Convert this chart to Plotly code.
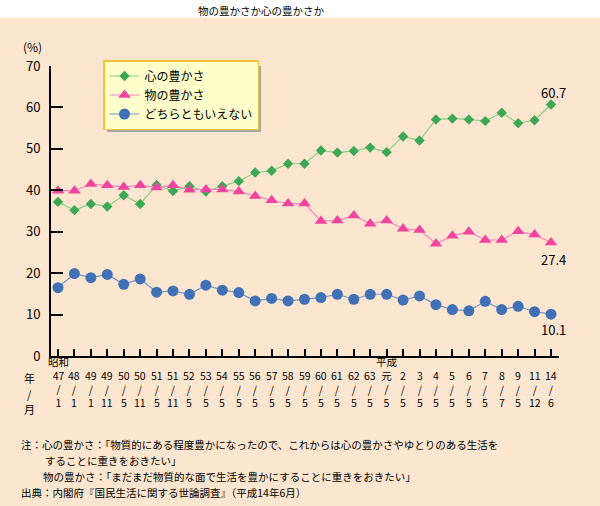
import plotly.graph_objects as go

# ---------------- data ----------------
eras = ["昭和"] + [""] * 19 + ["平成"] + [""] * 10
years = ["47", "48", "49", "49", "50", "50", "51", "51", "52", "53", "54", "55", "56", "57",
         "58", "59", "60", "61", "62", "63", "元", "2", "3", "4", "5", "6", "7", "8", "9", "11", "14"]
months = ["1", "1", "1", "11", "5", "11", "5", "11", "5", "5", "5", "5", "5", "5",
          "5", "5", "5", "5", "5", "5", "5", "5", "5", "5", "5", "5", "5", "7", "5", "12", "6"]
categories = [f"{e}{y}/{m}" for e, y, m in zip(eras, years, months)]

kokoro = [37.2, 35.2, 36.7, 36.1, 38.8, 36.7, 41.3, 39.8, 41.0, 39.7, 41.0, 42.2, 44.3, 44.7,
          46.4, 46.4, 49.6, 49.1, 49.5, 50.3, 49.2, 53.0, 52.0, 57.1, 57.3, 57.1, 56.7, 58.7,
          56.2, 56.9, 60.7]
mono = [39.9, 39.9, 41.5, 41.2, 40.8, 41.2, 40.7, 41.2, 40.1, 40.2, 40.2, 39.7, 38.6, 37.6,
        36.8, 36.8, 32.6, 32.7, 33.9, 31.9, 32.7, 30.7, 30.4, 27.1, 29.0, 30.0, 28.0, 28.0,
        30.1, 29.3, 27.4]
dochira = [16.5, 19.9, 18.9, 19.7, 17.3, 18.6, 15.4, 15.7, 14.9, 17.1, 15.9, 15.3, 13.3, 13.9,
           13.3, 13.7, 14.1, 14.9, 13.7, 14.9, 14.9, 13.5, 14.5, 12.4, 11.2, 10.9, 13.2, 11.2,
           12.0, 10.7, 10.1]

series_names = ["心の豊かさ", "物の豊かさ", "どちらともいえない"]

title_text = "物の豊かさか心の豊かさか"
notes = [
    "注：心の豊かさ：「物質的にある程度豊かになったので、これからは心の豊かさやゆとりのある生活を",
    "することに重きをおきたい」",
    "物の豊かさ：「まだまだ物質的な面で生活を豊かにすることに重きをおきたい」",
    "出典：内閣府『国民生活に関する世論調査』（平成14年6月）",
]

# ---------------- layout helpers ----------------
W, H = 600, 506
PL, PR, PT, PB = 51, 559, 66, 356
FONT = "Noto Sans CJK JP"
BG = "#FDE6CF"


def xp(px):
    return (px - PL) / (PR - PL)


def yp(py):
    return (PB - py) / (PB - PT)


fig = go.Figure()

styles = [
    dict(symbol="diamond", size=8, color="#3DA853", line="#86CF86"),
    dict(symbol="triangle-up", size=11, color="#F0449E", line="#FF80C4"),
    dict(symbol="circle", size=11, color="#4070B6", line="#7495CC"),
]
for name, vals, st in zip(series_names, [kokoro, mono, dochira], styles):
    fig.add_trace(go.Scatter(
        x=categories, y=vals, name=name, mode="lines+markers",
        line=dict(color=st["line"], width=1.2),
        marker=dict(symbol=st["symbol"], size=st["size"], color=st["color"],
                    line=dict(width=0)),
        cliponaxis=False,
    ))

annotations = []


def paper_text(text, x, y, size, xanchor="center"):
    annotations.append(dict(text=text, x=xp(x), y=yp(y), xref="paper", yref="paper",
                            xanchor=xanchor, yanchor="middle", showarrow=False,
                            borderpad=0, font=dict(size=size, color="black")))


# title, unit label, axis caption
paper_text(title_text, 261, 10, 10.5)
paper_text("(%)", 32, 47, 12)
for t, yy in zip(["年", "/", "月"], [378, 394, 409]):
    paper_text(t, 29, yy, 11)

# category labels (era / year / slash / month) under each tick
for c, e, yv, m in zip(categories, eras, years, months):
    txt = f"{yv}<br>/<br>{m}" if not e else f"{e}<br>{yv}<br>/<br>{m}"
    annotations.append(dict(text=txt, x=c, y=yp(411), xref="x", yref="paper",
                            xanchor="center", yanchor="bottom", showarrow=False,
                            borderpad=0, font=dict(size=10.5, color="black")))
# end value labels
for vals, shift in zip([kokoro, mono, dochira], [12, -17, -15]):
    annotations.append(dict(text=f"{vals[-1]:.1f}", x=categories[-1], y=vals[-1],
                            xref="x", yref="y", xanchor="center", yanchor="middle",
                            xshift=2, yshift=shift, showarrow=False,
                            font=dict(size=13, color="black")))
# notes
for t, (nx, ny) in zip(notes, [(20, 444), (44, 460), (42, 476), (20, 492)]):
    paper_text(t, nx, ny, 10.5, xanchor="left")

shapes = [
    # white title band
    dict(type="rect", xref="paper", yref="paper", x0=xp(-10), x1=xp(610),
         y0=yp(17.5), y1=yp(-10), fillcolor="white", line=dict(width=0), layer="below"),
    # legend shadow
    dict(type="rect", xref="paper", yref="paper", x0=xp(107), x1=xp(261),
         y0=yp(132), y1=yp(66), fillcolor="#A8A8A8", line=dict(width=0), layer="below"),
]

fig.update_layout(
    width=W, height=H,
    margin=dict(l=PL, r=W - PR, t=PT, b=H - PB, pad=0, autoexpand=False),
    paper_bgcolor=BG, plot_bgcolor=BG,
    font=dict(family=FONT, color="black"),
    showlegend=True,
    legend=dict(x=xp(103), y=yp(60), xanchor="left", yanchor="top",
                bgcolor="#FFFFCC", bordercolor="#F3C23A", borderwidth=1.5,
                font=dict(size=12, color="black"), itemwidth=30),
    annotations=annotations,
    shapes=shapes,
    xaxis=dict(type="category", range=[-0.426, 30.487], showline=True, linecolor="black",
               linewidth=2, ticks="inside", ticklen=7, tickwidth=1.5, tickcolor="black",
               tickvals=categories, showticklabels=False,
               showgrid=False, zeroline=False, automargin=False),
    yaxis=dict(range=[0, 70], dtick=10, showline=True, linecolor="black", linewidth=2,
               ticks="inside", ticklen=12, tickwidth=1.5, tickcolor="black",
               tickfont=dict(size=13, color="black"), ticklabelstandoff=6,
               showgrid=False, zeroline=False, automargin=False),
)

fig.write_html(
    "out.html",
    config={"displayModeBar": False},
    post_script="document.body.style.margin='0';document.body.style.padding='0';"
                "document.body.style.background='" + BG + "';",
)
